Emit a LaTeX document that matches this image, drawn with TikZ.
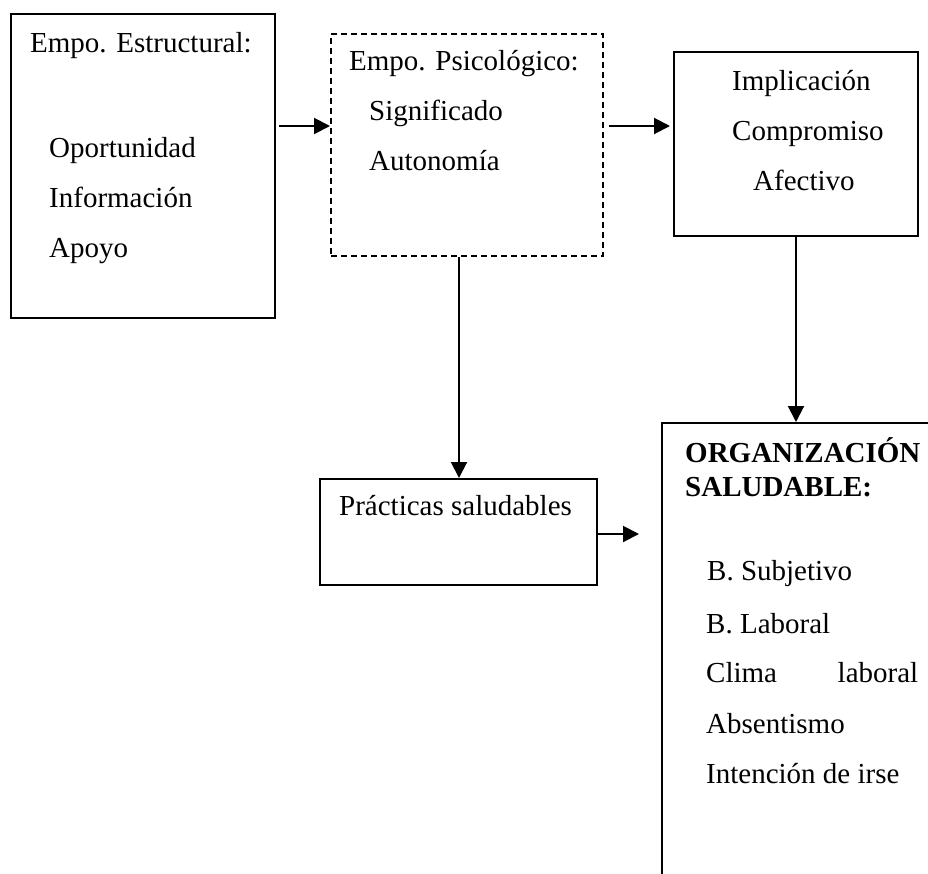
\documentclass[tikz,border=0pt]{standalone}
\usepackage{fontspec}
\setmainfont{Liberation Serif}
\usetikzlibrary{arrows.meta}
\begin{document}
\begin{tikzpicture}[x=1pt,y=-1pt,
  box/.style={draw,line width=2pt,inner sep=0pt,anchor=north west},
  dbox/.style={box,dash pattern=on 6pt off 4pt},
  txt/.style={inner sep=0pt,anchor=base west,font=\fontsize{29}{35}\selectfont},
  arr/.style={line width=2pt,-{Triangle[length=16pt,width=16pt]}}]
\clip (0,0) rectangle (928,873);
\fill[white] (0,0) rectangle (928,873);
% boxes
\node[box,minimum width=264pt,minimum height=304pt] (A) at (10,13) {};
\node[dbox,minimum width=272pt,minimum height=222pt] (B) at (330,33) {};
\node[box,minimum width=244pt,minimum height=184pt] (C) at (673,51) {};
\node[box,minimum width=277pt,minimum height=106pt] (E) at (319,478) {};
\node[box,minimum width=320pt,minimum height=520pt] (D) at (661,422) {};
% texts
\node[txt] (a1) at (30,52) {Empo. Estructural:};
\node[txt] (a2) at (49,157) {Oportunidad};
\node[txt] (a3) at (49,207) {Información};
\node[txt] (a4) at (49,257) {Apoyo};
\node[txt] (b1) at (349,70) {Empo. Psicológico:};
\node[txt] (b2) at (369,120) {Significado};
\node[txt] (b3) at (369,170) {Autonomía};
\node[txt] (c1) at (732,90) {Implicación};
\node[txt] (c2) at (732,140) {Compromiso};
\node[txt] (c3) at (753,190) {Afectivo};
\node[txt] (e1) at (339,515) {Prácticas saludables};
\node[txt,font=\fontsize{29}{35}\selectfont\bfseries] (d1) at (685,462) {ORGANIZACIÓN};
\node[txt,font=\fontsize{29}{35}\selectfont\bfseries] (d2) at (685,496) {SALUDABLE:};
\node[txt] (d3) at (707,580) {B. Subjetivo};
\node[txt] (d4) at (706,633) {B. Laboral};
\node[txt] (d5) at (706,682) {\makebox[212pt][s]{Clima laboral}};
\node[txt] (d6) at (706,733) {Absentismo};
\node[txt] (d7) at (706,783) {Intención de irse};
% connectors
\draw[arr,shorten <=3pt] (A.east |- 0,126) -- (B.west |- 0,126);
\draw[arr,shorten <=5pt,shorten >=3pt] (B.east |- 0,126) -- (C.west |- 0,126);
\draw[arr] (B.south -| 459,0) -- (E.north -| 459,0);
\draw[arr] (C.south -| 796,0) -- (D.north -| 796,0);
\draw[arr,shorten >=22pt] (E.east |- 0,534) -- (D.west |- 0,534);
\end{tikzpicture}
\end{document}
